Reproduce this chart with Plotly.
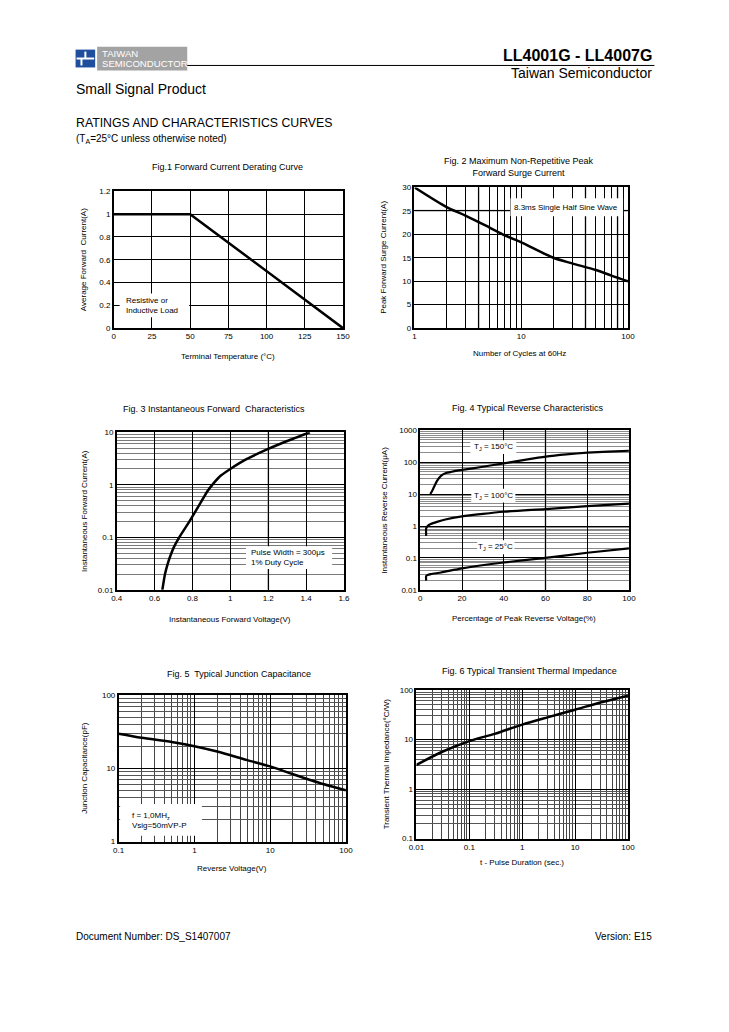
import plotly.graph_objects as go

# ---------------- data ----------------
fig1_temp = [0, 50, 150]
fig1_current = [1.0, 1.0, 0.0]
fig1_xticks = [0, 25, 50, 75, 100, 125, 150]
fig1_yticks = [0, 0.2, 0.4, 0.6, 0.8, 1.0, 1.2]
fig1_ytext = ["0", "0.2", "0.4", "0.6", "0.8", "1", "1.2"]

fig2_cycles = [1, 2, 3, 5, 7, 10, 20, 30, 50, 70, 100]
fig2_surge = [30, 25.8, 24.0, 21.5, 19.8, 18.3, 15.0, 13.8, 12.4, 11.2, 10.0]
fig2_xticks = [1, 10, 100]
fig2_yticks = [0, 5, 10, 15, 20, 25, 30]

fig3_voltage = [0.641, 0.655, 0.670, 0.685, 0.700, 0.730, 0.780, 0.830, 0.880,
                0.910, 0.950, 1.0, 1.08, 1.2, 1.3, 1.42]
fig3_current = [0.01, 0.02, 0.032, 0.046, 0.063, 0.1, 0.19, 0.38, 0.76,
                1.05, 1.5, 2.0, 3.0, 4.8, 6.8, 10.0]
fig3_xticks = [0.4, 0.6, 0.8, 1.0, 1.2, 1.4, 1.6]
fig3_xtext = ["0.4", "0.6", "0.8", "1", "1.2", "1.4", "1.6"]
fig3_yticks = [0.01, 0.1, 1, 10]
fig3_ytext = ["0.01", "0.1", "1", "10"]

fig4_t150_pct = [4.8, 6, 8, 10, 12, 15, 20, 30, 40, 50, 60, 70, 80, 90, 100]
fig4_t150_ir = [10, 14, 26, 38, 45, 50, 57, 72, 92, 118, 149, 175, 198, 215, 228]
fig4_t100_pct = [2.8, 2.8, 3.5, 5, 8, 12, 20, 30, 40, 60, 80, 100]
fig4_t100_ir = [0.49, 0.85, 1.0, 1.15, 1.35, 1.6, 2.0, 2.4, 2.8, 3.4, 4.2, 5.0]
fig4_t25_pct = [2.8, 2.8, 3.5, 5, 10, 20, 40, 60, 80, 100]
fig4_t25_ir = [0.0195, 0.027, 0.029, 0.031, 0.035, 0.047, 0.072, 0.10, 0.145, 0.20]
fig4_xticks = [0, 20, 40, 60, 80, 100]
fig4_yticks = [0.01, 0.1, 1, 10, 100, 1000]
fig4_ytext = ["0.01", "0.1", "1", "10", "100", "1000"]

fig5_voltage = [0.1, 0.2, 0.5, 1, 2, 5, 10, 20, 50, 100]
fig5_cap = [29.5, 26.0, 22.8, 20.0, 16.9, 12.9, 10.6, 8.3, 6.1, 5.0]
fig5_xticks = [0.1, 1, 10, 100]
fig5_xtext = ["0.1", "1", "10", "100"]
fig5_yticks = [1, 10, 100]
fig5_ytext = ["1", "10", "100"]

fig6_time = [0.01, 0.03, 0.1, 0.3, 1, 3, 10, 30, 100]
fig6_imp = [3.07, 5.6, 9.3, 13.0, 20.0, 28.0, 40.0, 56.0, 77.0]
fig6_xticks = [0.01, 0.1, 1, 10, 100]
fig6_xtext = ["0.01", "0.1", "1", "10", "100"]
fig6_yticks = [0.1, 1, 10, 100]
fig6_ytext = ["0.1", "1", "10", "100"]

# grid lines drawn lighter in the original
fig2_gray_x = [4, 40, 80]
fig2_gray_y = [25]
fig3_gray_x = [1.2]
fig4_gray_x = [60]

# ---------------- layout helpers ----------------
W, H = 729, 1032
FONT = "Liberation Sans, Arial, Helvetica, sans-serif"


def px(x):
    return x / W


def py(y):
    return 1 - y / H


def minor_vals(lo_exp, hi_exp):
    vals = []
    for e in range(lo_exp, hi_exp):
        for m in range(2, 10):
            vals.append(m * 10 ** e)
    return vals


boxes = {
    1: (108, 342, 189, 327),
    2: (415, 633, 185, 327),
    3: (111, 343, 432, 591),
    4: (421, 634, 430, 591),
    5: (113, 345, 697, 845),
    6: (417, 633, 692, 842),
}

fig = go.Figure()


def curve(smooth=None, width=2.5):
    if smooth is None:
        return dict(color="black", width=width)
    return dict(color="black", width=width, shape="spline", smoothing=smooth)


fig.add_trace(go.Scatter(x=fig1_temp, y=fig1_current, mode="lines", line=curve(),
                         xaxis="x", yaxis="y", showlegend=False))
fig.add_trace(go.Scatter(x=fig2_cycles, y=fig2_surge, mode="lines", line=curve(0.8),
                         xaxis="x2", yaxis="y2", showlegend=False))
fig.add_trace(go.Scatter(x=fig3_voltage, y=fig3_current, mode="lines", line=curve(0.5),
                         xaxis="x3", yaxis="y3", showlegend=False))
for xs, ys in [(fig4_t150_pct, fig4_t150_ir), (fig4_t100_pct, fig4_t100_ir), (fig4_t25_pct, fig4_t25_ir)]:
    fig.add_trace(go.Scatter(x=xs, y=ys, mode="lines", line=curve(0.6, 2.2),
                             xaxis="x4", yaxis="y4", showlegend=False))
fig.add_trace(go.Scatter(x=fig5_voltage, y=fig5_cap, mode="lines", line=curve(0.8),
                         xaxis="x5", yaxis="y5", showlegend=False))
fig.add_trace(go.Scatter(x=fig6_time, y=fig6_imp, mode="lines", line=curve(0.8),
                         xaxis="x6", yaxis="y6", showlegend=False))


def axis_common():
    return dict(showline=True, linecolor="black", linewidth=1.5, mirror=True,
                showgrid=True, gridcolor="black", gridwidth=1, zeroline=False,
                ticks="", tickfont=dict(family=FONT, size=8, color="black"),
                fixedrange=True)


layout = {}
for i, (x0, x1, y0, y1) in boxes.items():
    sx = "" if i == 1 else str(i)
    xa = axis_common()
    ya = axis_common()
    xa.update(domain=[px(x0), px(x1)], anchor="y" + sx)
    ya.update(domain=[py(y1), py(y0)], anchor="x" + sx)
    layout["xaxis" + sx] = xa
    layout["yaxis" + sx] = ya


def log_minor(lo, hi, color):
    return dict(tickmode="array", tickvals=minor_vals(lo, hi), showgrid=True,
                gridcolor=color, gridwidth=1, ticks="")


layout["xaxis"].update(range=[0, 150], tickmode="array", tickvals=fig1_xticks)
layout["yaxis"].update(range=[0, 1.2], tickmode="array", tickvals=fig1_yticks, ticktext=fig1_ytext)
layout["xaxis2"].update(type="log", range=[0, 2], tickmode="array", tickvals=fig2_xticks,
                        ticktext=[str(v) for v in fig2_xticks], minor=log_minor(0, 2, "black"))
layout["yaxis2"].update(range=[0, 30], tickmode="array", tickvals=fig2_yticks)
layout["xaxis3"].update(range=[0.4, 1.6], tickmode="array", tickvals=fig3_xticks, ticktext=fig3_xtext)
layout["yaxis3"].update(type="log", range=[-2, 1], tickmode="array", tickvals=fig3_yticks,
                        ticktext=fig3_ytext, minor=log_minor(-2, 1, "#7a7a7a"))
layout["xaxis4"].update(range=[0, 100], tickmode="array", tickvals=fig4_xticks)
layout["yaxis4"].update(type="log", range=[-2, 3], tickmode="array", tickvals=fig4_yticks,
                        ticktext=fig4_ytext, minor=log_minor(-2, 3, "#8c8c8c"))
layout["xaxis5"].update(type="log", range=[-1, 2], tickmode="array", tickvals=fig5_xticks,
                        ticktext=fig5_xtext, minor=log_minor(-1, 2, "#444444"))
layout["yaxis5"].update(type="log", range=[0, 2], tickmode="array", tickvals=fig5_yticks,
                        ticktext=fig5_ytext, minor=log_minor(0, 2, "#555555"))
layout["xaxis6"].update(type="log", range=[-2, 2], tickmode="array", tickvals=fig6_xticks,
                        ticktext=fig6_xtext, minor=log_minor(-2, 2, "#444444"))
layout["yaxis6"].update(type="log", range=[-1, 2], tickmode="array", tickvals=fig6_yticks,
                        ticktext=fig6_ytext, minor=log_minor(-1, 2, "#555555"))

fig.update_layout(**layout)

shapes = []
GRAY = dict(color="#b0b0b0", width=2)
for v in fig2_gray_x:
    shapes.append(dict(type="line", xref="x2", yref="y2 domain", x0=v, x1=v, y0=0, y1=1,
                       line=GRAY, layer="below"))
for v in fig2_gray_y:
    shapes.append(dict(type="line", xref="x2 domain", yref="y2", x0=0, x1=1, y0=v, y1=v,
                       line=GRAY, layer="below"))
for v in fig3_gray_x:
    shapes.append(dict(type="line", xref="x3", yref="y3 domain", x0=v, x1=v, y0=0, y1=1,
                       line=GRAY, layer="below"))
for v in fig4_gray_x:
    shapes.append(dict(type="line", xref="x4", yref="y4 domain", x0=v, x1=v, y0=0, y1=1,
                       line=GRAY, layer="below"))


def white_box(x0, x1, y0, y1):
    shapes.append(dict(type="rect", xref="paper", yref="paper", x0=px(x0), x1=px(x1),
                       y0=py(y1), y1=py(y0), fillcolor="white", line=dict(width=0), layer="above"))


white_box(114, 185, 292, 316)      # fig1 label
white_box(513, 628, 196, 214)      # fig2 label
white_box(243, 331, 547, 570)      # fig3 label
white_box(472, 519, 440, 454)      # fig4 150C
white_box(473, 518, 489, 503)      # fig4 100C
white_box(479, 517, 541, 555)      # fig4 25C
white_box(114.5, 198, 807, 839)    # fig5 label


def paper_line(x0, y0, x1, y1, color, width):
    shapes.append(dict(type="line", xref="paper", yref="paper", x0=px(x0), x1=px(x1),
                       y0=py(y0), y1=py(y1), line=dict(color=color, width=width)))


def paper_rect(x0, y0, x1, y1, color):
    shapes.append(dict(type="rect", xref="paper", yref="paper", x0=px(x0), x1=px(x1),
                       y0=py(y1), y1=py(y0), fillcolor=color, line=dict(width=0)))


# logo and header rule
paper_rect(91, 43, 183, 67, "#a3a3a3")
paper_rect(69, 46, 89, 64, "#1f4e9e")
paper_line(70, 55, 88, 55, "white", 2)
paper_line(79, 48, 79, 55, "white", 2)
paper_line(75, 55, 75, 62, "white", 2)
paper_line(183, 62, 660, 62, "black", 1)

fig.update_layout(shapes=shapes)

anns = []


def ann(text, x, y, size, xanchor="center", angle=0, bold=False, color="black", align="center"):
    if bold:
        text = "<b>" + text + "</b>"
    anns.append(dict(text=text, x=px(x), y=py(y), xref="paper", yref="paper",
                     xanchor=xanchor, yanchor="middle", showarrow=False, textangle=angle,
                     align=align, font=dict(family=FONT, size=size, color=color)))


# header / footer
ann("TAIWAN", 94, 49.5, 9.6, xanchor="left", color="white")
ann("SEMICONDUCTOR", 94, 60.5, 9.6, xanchor="left", color="white")
ann("LL4001G - LL4007G", 660, 52, 16, xanchor="right", bold=True)
ann("Taiwan Semiconductor", 660, 70, 14, xanchor="right")
ann("Small Signal Product", 67, 86, 14, xanchor="left")
ann("RATINGS AND CHARACTERISTICS CURVES", 67, 120, 12.3, xanchor="left")
ann("(T<sub>A</sub>=25°C unless otherwise noted)", 67, 136, 10, xanchor="left")
ann("Document Number: DS_S1407007", 67, 941, 10, xanchor="left")
ann("Version: E15", 660, 941, 10, xanchor="right")

# figure titles
ann("Fig.1 Forward Current Derating Curve", 224, 164, 9)
ann("Fig. 2 Maximum Non-Repetitive Peak<br>Forward Surge Current", 522, 164, 9)
ann("Fig. 3 Instantaneous Forward  Characteristics", 210, 409, 9)
ann("Fig. 4 Typical Reverse Characteristics", 530, 408, 9)
ann("Fig. 5  Typical Junction Capacitance", 236, 676, 9)
ann("Fig. 6 Typical Transient Thermal Impedance", 532, 673, 9)

# axis titles
ann("Terminal Temperature (°C)", 225, 356, 8)
ann("Average Forward  Current(A)", 77, 258, 8, angle=-90)
ann("Number of Cycles at 60Hz", 522, 353, 8)
ann("Peak Forward Surge Current(A)", 384, 256, 8, angle=-90)
ann("Instantaneous Forward Voltage(V)", 227, 621, 8)
ann("Instantaneous Forward Current(A)", 78, 511, 8, angle=-90)
ann("Percentage of Peak Reverse Voltage(%)", 527, 620, 8)
ann("Instantaneous Reverse Current(μA)", 384, 511, 8, angle=-90)
ann("Reverse Voltage(V)", 229, 872, 8)
ann("Junction Capacitance(pF)", 78, 771, 8, angle=-90)
ann("t - Pulse Duration (sec.)", 525, 866, 8)
ann("Transient Thermal Impedance(°C/W)", 386, 767, 8, angle=-90)

# in-plot labels
ann("Resistive or<br>Inductive Load", 118, 304, 8, xanchor="left", align="left")
ann("8.3ms Single Half Sine Wave", 570, 205, 8)
ann("Pulse Width = 300μs<br>1% Duty Cycle", 246, 558, 8, xanchor="left", align="left")
ann("T<sub>J</sub> = 150°C", 496, 447, 8)
ann("T<sub>J</sub> = 100°C", 496, 496, 8)
ann("T<sub>J</sub> = 25°C", 498, 548, 8)
ann("f = 1,0MH<sub>z</sub><br>Vsig=50mVP-P", 125, 824, 8, xanchor="left", align="left")

fig.update_layout(annotations=anns, width=W, height=H,
                  margin=dict(l=0, r=0, t=0, b=0, pad=0),
                  paper_bgcolor="white", plot_bgcolor="white",
                  font=dict(family=FONT, color="black"))

fig.write_html("out.html", config={"displayModeBar": False},
               post_script="document.body.style.margin='0';")
